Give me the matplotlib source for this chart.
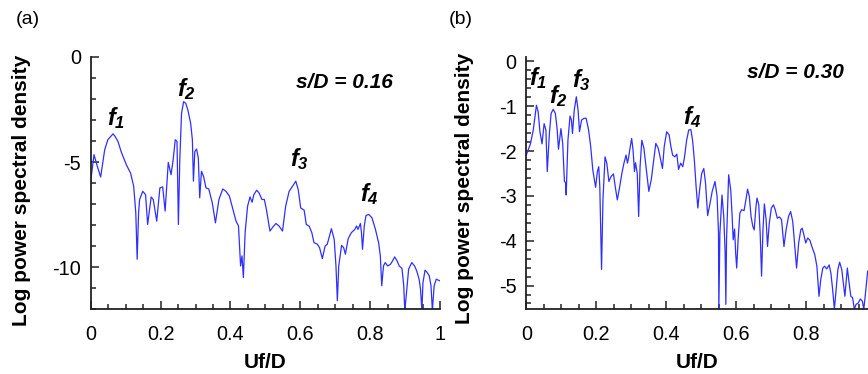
import matplotlib
matplotlib.use("Agg")
import matplotlib.pyplot as plt

plt.rcParams['font.family'] = ['Liberation Sans', 'DejaVu Sans']
plt.rcParams['mathtext.fontset'] = 'custom'
plt.rcParams['mathtext.it'] = 'Liberation Sans:italic:bold'
plt.rcParams['mathtext.rm'] = 'Liberation Sans:italic:bold'

# ---------------- data: panel (a), s/D = 0.16 ----------------
freq_a = [0.000, 0.0095, 0.019, 0.0285, 0.040, 0.049, 0.057, 0.064, 0.070, 0.078,
          0.087, 0.102, 0.114, 0.123, 0.129, 0.133, 0.137, 0.140, 0.149, 0.157,
          0.163, 0.173, 0.179, 0.189, 0.198, 0.206, 0.213, 0.222, 0.230, 0.236,
          0.242, 0.247, 0.251, 0.255, 0.260, 0.266, 0.272, 0.278, 0.286, 0.291,
          0.294, 0.298, 0.303, 0.308, 0.312, 0.317, 0.323, 0.330, 0.338, 0.348,
          0.357, 0.367, 0.378, 0.387, 0.397, 0.406, 0.416, 0.423, 0.429, 0.433,
          0.437, 0.442, 0.449, 0.456, 0.462, 0.467, 0.475, 0.482, 0.490, 0.497,
          0.503, 0.513, 0.520, 0.530, 0.539, 0.549, 0.558, 0.568, 0.579, 0.587,
          0.594, 0.601, 0.611, 0.617, 0.625, 0.633, 0.639, 0.649, 0.655, 0.663,
          0.671, 0.677, 0.689, 0.697, 0.702, 0.706, 0.710, 0.718, 0.724, 0.729,
          0.737, 0.746, 0.756, 0.761, 0.765, 0.772, 0.775, 0.778, 0.783, 0.788,
          0.796, 0.805, 0.815, 0.824, 0.829, 0.833, 0.838, 0.843, 0.850, 0.858,
          0.864, 0.870, 0.877, 0.883, 0.891, 0.896, 0.899, 0.904, 0.910, 0.919,
          0.927, 0.933, 0.940, 0.944, 0.948, 0.951, 0.957, 0.963, 0.969, 0.974,
          0.978, 0.983, 0.989, 1.000]
psd_a = [-5.91, -4.65, -5.21, -5.71, -4.42, -3.94, -3.79, -3.66, -3.79, -4.02,
         -4.50, -5.13, -5.52, -6.15, -7.41, -9.62, -7.41, -6.78, -6.39, -6.55,
         -7.97, -6.66, -6.78, -7.81, -6.23, -6.18, -7.33, -5.02, -5.60, -4.89,
         -3.94, -4.02, -7.97, -4.89, -2.68, -2.13, -2.21, -2.52, -3.15, -3.94,
         -5.91, -4.50, -4.38, -4.81, -6.70, -5.44, -5.68, -6.23, -6.28, -6.94,
         -7.89, -6.78, -6.28, -6.39, -6.62, -7.18, -7.81, -8.04, -9.94, -9.46,
         -10.49, -8.36, -7.10, -6.66, -6.91, -6.55, -6.34, -6.47, -6.78, -6.78,
         -7.26, -8.28, -8.12, -7.92, -8.04, -8.28, -7.10, -6.39, -6.12, -5.91,
         -6.31, -7.18, -7.29, -7.97, -8.04, -8.36, -8.83, -8.91, -9.07, -9.59,
         -8.99, -8.91, -8.17, -8.68, -9.94, -11.59, -9.94, -8.96, -9.07, -9.38,
         -8.64, -8.36, -8.20, -8.04, -8.20, -7.92, -8.36, -9.15, -8.04, -7.54,
         -7.49, -7.65, -8.20, -8.83, -9.46, -10.88, -9.94, -9.78, -9.94, -9.86,
         -9.70, -9.51, -9.70, -9.94, -10.06, -10.88, -12.07, -11.20, -10.09, -9.78,
         -9.94, -10.17, -10.57, -11.04, -12.07, -10.73, -10.14, -10.25, -10.41, -10.88,
         -12.07, -10.88, -10.57, -10.65]

# ---------------- data: panel (b), s/D = 0.30 ----------------
freq_b = [0.000, 0.012, 0.020, 0.029, 0.034, 0.039, 0.045, 0.051, 0.056, 0.060,
          0.066, 0.071, 0.077, 0.083, 0.088, 0.092, 0.099, 0.104, 0.109, 0.112,
          0.114, 0.119, 0.125, 0.129, 0.132, 0.137, 0.143, 0.148, 0.152, 0.158,
          0.165, 0.171, 0.178, 0.184, 0.190, 0.198, 0.203, 0.207, 0.210, 0.215,
          0.219, 0.225, 0.230, 0.236, 0.242, 0.249, 0.254, 0.260, 0.267, 0.273,
          0.279, 0.285, 0.289, 0.292, 0.297, 0.301, 0.305, 0.309, 0.312, 0.317,
          0.321, 0.325, 0.330, 0.336, 0.343, 0.350, 0.357, 0.364, 0.370, 0.377,
          0.384, 0.389, 0.394, 0.401, 0.408, 0.413, 0.418, 0.424, 0.430, 0.435,
          0.441, 0.447, 0.452, 0.458, 0.464, 0.470, 0.475, 0.480, 0.485, 0.490,
          0.495, 0.501, 0.507, 0.512, 0.518, 0.525, 0.531, 0.539, 0.545, 0.549,
          0.550, 0.553, 0.559, 0.564, 0.568, 0.570, 0.572, 0.578, 0.584, 0.588,
          0.591, 0.595, 0.598, 0.601, 0.605, 0.610, 0.615, 0.622, 0.629, 0.632,
          0.637, 0.642, 0.647, 0.651, 0.656, 0.659, 0.664, 0.668, 0.672, 0.676,
          0.680, 0.685, 0.689, 0.694, 0.700, 0.706, 0.711, 0.717, 0.723, 0.729,
          0.736, 0.742, 0.749, 0.755, 0.761, 0.767, 0.772, 0.778, 0.784, 0.788,
          0.793, 0.798, 0.804, 0.810, 0.817, 0.824, 0.830, 0.836, 0.841, 0.847,
          0.852, 0.858, 0.865, 0.870, 0.875, 0.880, 0.885, 0.890, 0.895, 0.901,
          0.907, 0.910, 0.917, 0.922, 0.927, 0.932, 0.937, 0.942, 0.948, 0.954,
          0.960, 0.964, 0.969, 0.975]
psd_b = [-2.09, -1.84, -1.53, -0.98, -1.13, -1.57, -1.84, -1.39, -1.53, -2.46,
         -1.61, -1.16, -1.07, -1.16, -1.50, -1.96, -1.50, -1.83, -2.68, -2.70,
         -2.98, -1.76, -1.22, -1.31, -1.61, -1.09, -0.79, -1.09, -1.57, -1.31,
         -1.27, -1.27, -1.53, -1.90, -2.42, -2.81, -2.46, -2.35, -2.79, -4.64,
         -3.09, -2.13, -2.27, -2.68, -2.57, -2.51, -2.79, -3.09, -2.79, -2.50,
         -2.27, -2.09, -2.27, -2.16, -1.90, -1.72, -1.98, -2.46, -2.26, -2.50,
         -3.46, -2.35, -1.76, -1.94, -2.42, -2.90, -2.64, -2.20, -1.83, -1.94,
         -2.20, -2.39, -1.90, -1.57, -1.64, -1.90, -2.09, -2.13, -2.07, -2.41,
         -2.27, -2.35, -2.13, -1.76, -1.53, -1.52, -1.76, -2.20, -2.79, -3.27,
         -2.87, -2.50, -2.39, -2.72, -3.44, -3.16, -2.90, -2.68, -3.01, -3.83,
         -5.53, -3.83, -2.98, -3.46, -4.27, -5.42, -3.98, -2.53, -2.87, -3.46,
         -3.98, -3.74, -4.27, -4.61, -3.98, -3.39, -3.31, -3.33, -3.01, -2.85,
         -3.01, -3.46, -3.68, -3.76, -3.24, -3.05, -3.20, -3.83, -4.79, -3.76,
         -3.18, -3.53, -4.13, -3.61, -3.27, -3.20, -3.31, -3.50, -3.47, -3.53,
         -4.13, -3.76, -3.46, -3.35, -3.57, -4.13, -4.61, -4.05, -3.76, -3.72,
         -3.87, -4.05, -3.94, -3.99, -4.16, -4.31, -4.57, -5.24, -4.87, -4.61,
         -4.57, -4.63, -4.54, -4.72, -5.09, -5.53, -5.09, -4.64, -4.48, -4.64,
         -5.05, -5.24, -4.61, -4.94, -5.24, -5.27, -5.53, -5.42, -5.39, -5.30,
         -5.35, -5.53, -5.16, -4.68]

xticks_major = [0, 0.2, 0.4, 0.6, 0.8, 1.0]
xtick_labels_a = ['0', '0.2', '0.4', '0.6', '0.8', '1']
xtick_labels_b = ['0', '0.2', '0.4', '0.6', '0.8']
yticks_a = [0, -5, -10]
ytick_labels_a = ['0', '-5', '-10']
yticks_b = [0, -1, -2, -3, -4, -5]
ytick_labels_b = ['0', '-1', '-2', '-3', '-4', '-5']

peaks_a = [('1', 0.048, -2.9), ('2', 0.248, -1.55), ('3', 0.570, -4.85), ('4', 0.770, -6.5)]
peaks_b = [('1', 0.008, -0.38), ('2', 0.065, -0.78), ('3', 0.131, -0.42), ('4', 0.447, -1.25)]

LINE = '#2f2fff'
SPINE = '#222222'

fig = plt.figure(figsize=(8.68, 3.74), dpi=100)
ax_a = fig.add_axes([0.1045, 0.173, 0.4025, 0.675])
ax_b = fig.add_axes([0.6063, 0.173, 0.3937, 0.675])


def style(ax, xmax, ymin, ymax, yt, ytl, ylminor, xtl):
    ax.set_xlim(0, xmax)
    ax.set_ylim(ymin, ymax)
    for s in ('top', 'right'):
        ax.spines[s].set_visible(False)
    for s in ('left', 'bottom'):
        ax.spines[s].set_color(SPINE)
        ax.spines[s].set_linewidth(1.3)
    ax.set_xticks([t / 20 for t in range(0, 21) if t / 20 <= xmax + 1e-9], minor=True)
    ax.set_xticks(xticks_major[:len(xtl)])
    ax.set_xticklabels(xtl)
    ax.set_yticks(ylminor, minor=True)
    ax.set_yticks(yt)
    ax.set_yticklabels(ytl)
    ax.tick_params(axis='both', which='major', direction='in', length=6,
                   width=1.1, color=SPINE, labelsize=14.3)
    ax.tick_params(axis='both', which='minor', direction='in', length=3.5,
                   width=1.1, color=SPINE)
    ax.tick_params(axis='x', which='both', pad=11)
    ax.tick_params(axis='y', which='both', pad=7)
    ax.set_xlabel('Uf/D', fontsize=15, fontweight='bold', labelpad=6.5)
    ax.set_ylabel('Log power spectral density', fontsize=15, fontweight='bold')


ax_a.plot(freq_a, psd_a, color=LINE, lw=0.9)
style(ax_a, 1.0, -12, 0, yticks_a, ytick_labels_a,
      [-k for k in range(0, 13)], xtick_labels_a)
ax_a.yaxis.set_label_coords(-0.172, 0.47)

ax_b.plot(freq_b, psd_b, color=LINE, lw=0.9)
style(ax_b, 0.976, -5.53, 0.1, yticks_b, ytick_labels_b,
      [-k / 5 for k in range(0, 28)], xtick_labels_b)
ax_b.yaxis.set_label_coords(-0.152, 0.48)

for ax, peaks in ((ax_a, peaks_a), (ax_b, peaks_b)):
    for sub, x, y in peaks:
        ax.text(x, y, r'$f_{%s}$' % sub, fontsize=17, ha='left', va='center')

ax_a.text(0.587, -1.2, 's/D = 0.16', fontsize=15, fontweight='bold',
          fontstyle='italic', ha='left', va='center')
ax_b.text(0.631, -0.24, 's/D = 0.30', fontsize=15, fontweight='bold',
          fontstyle='italic', ha='left', va='center')

fig.text(28 / 868, 1 - 19 / 374, '(a)', fontsize=14, ha='center', va='center')
fig.text(461 / 868, 1 - 19 / 374, '(b)', fontsize=14, ha='center', va='center')

fig.savefig('out.png', dpi=100)
